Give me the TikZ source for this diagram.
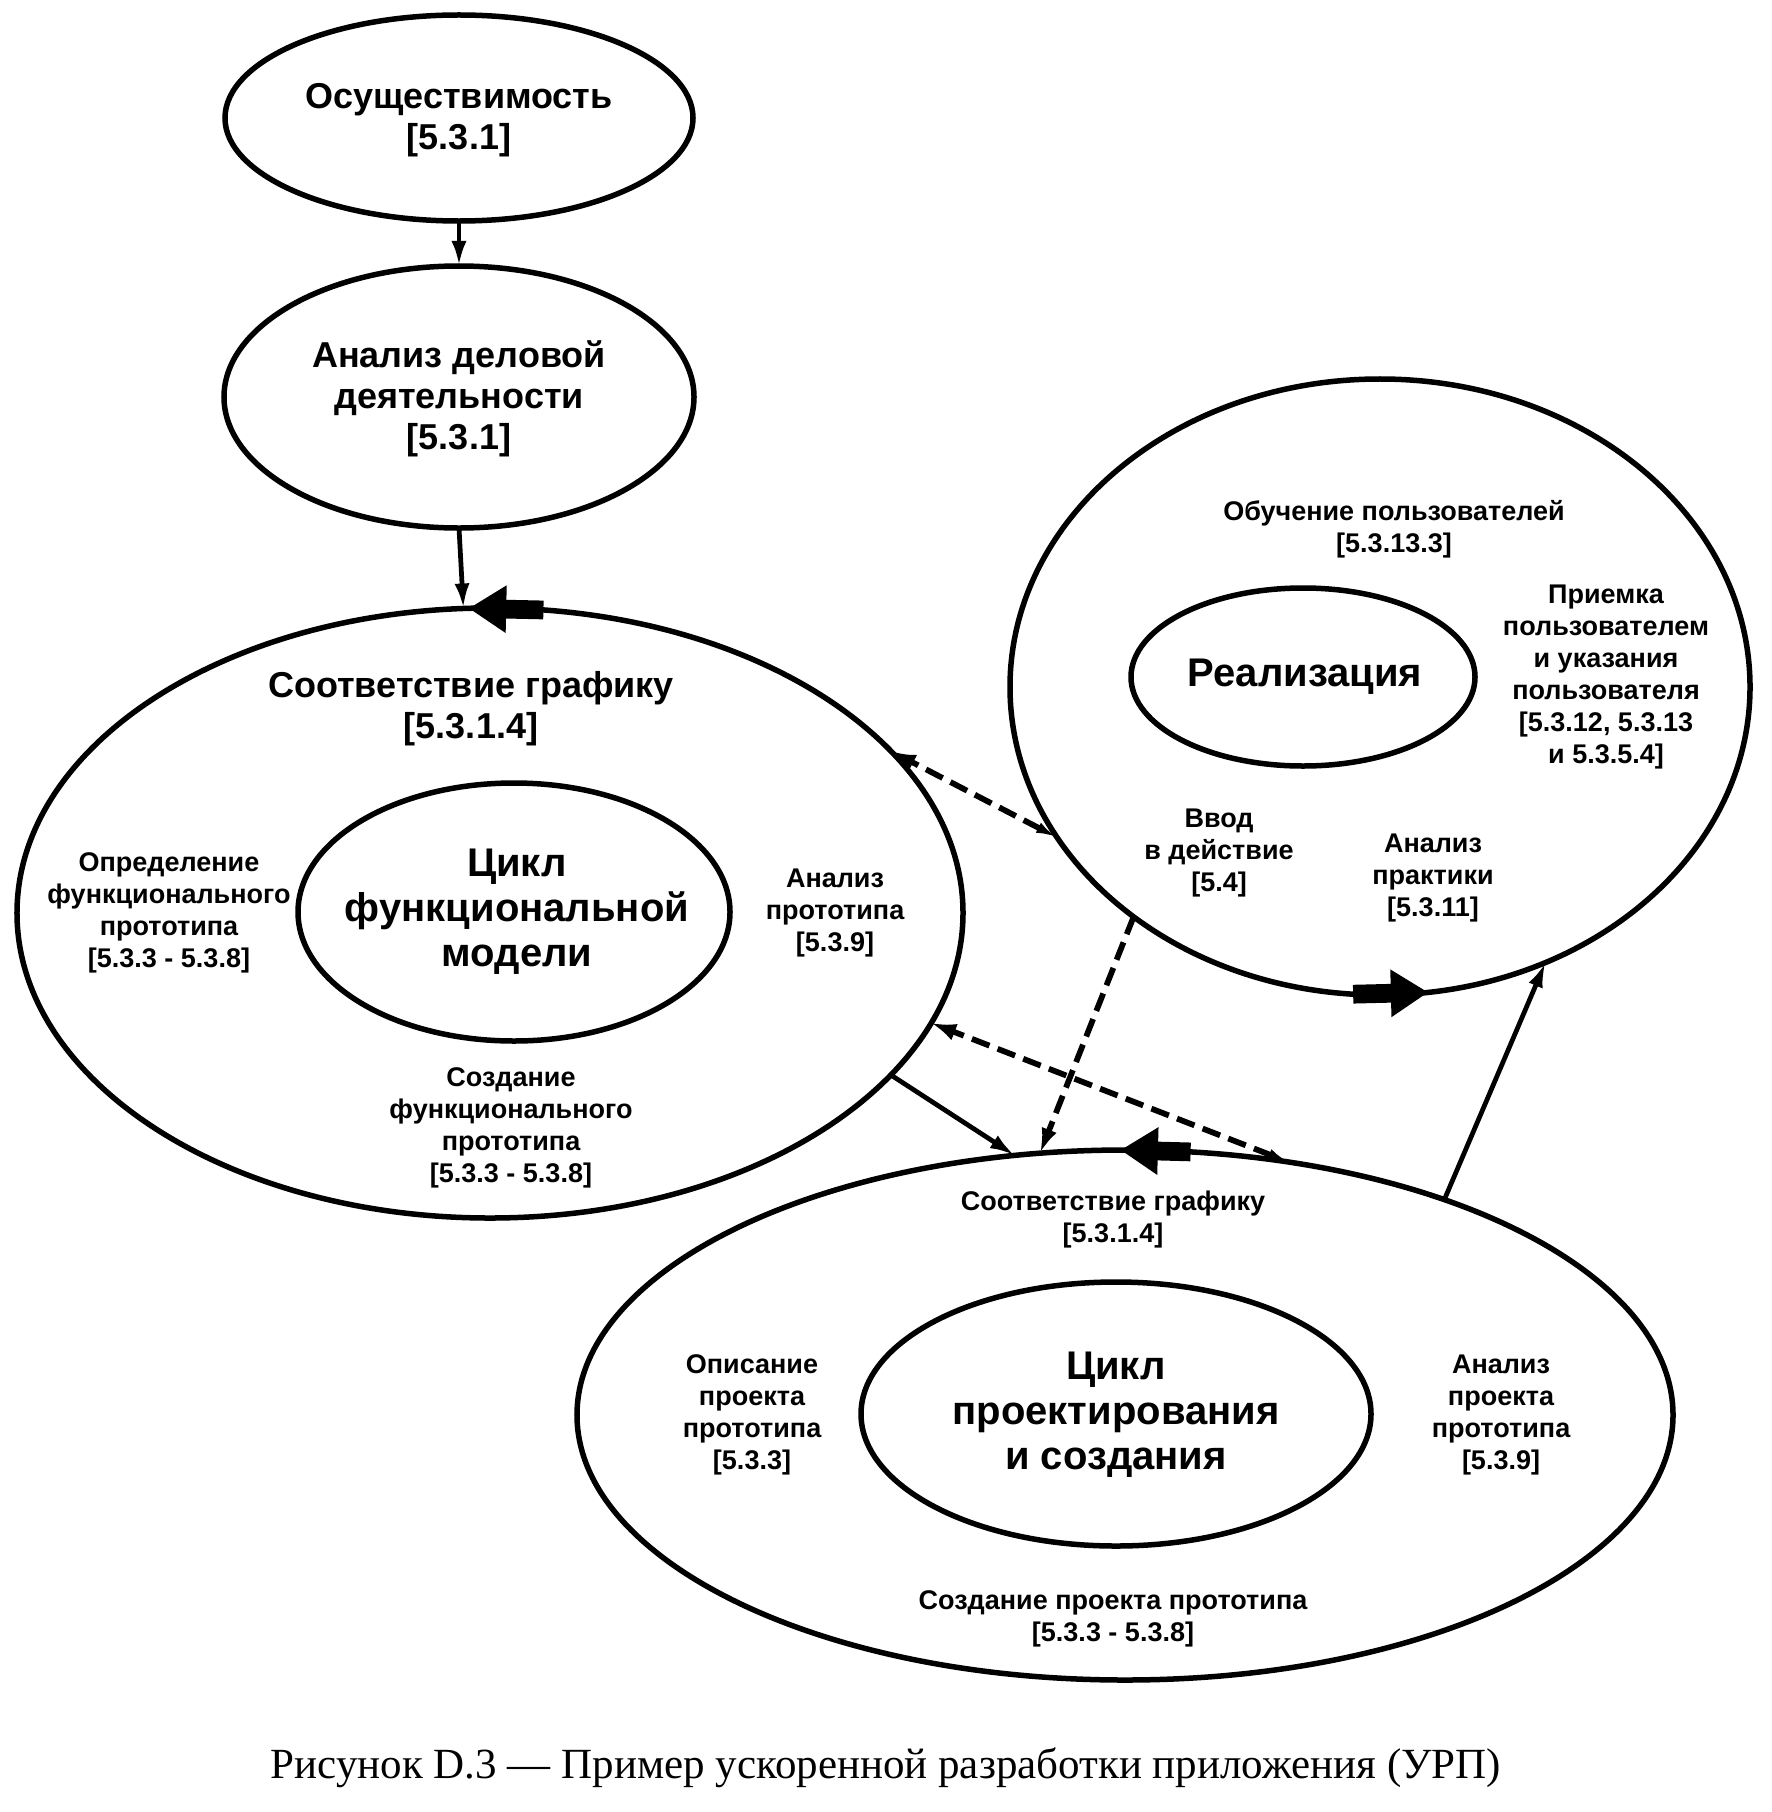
\documentclass[tikz,border=0pt]{standalone}
\usepackage{fontspec}
\setmainfont{Liberation Serif}
\newfontfamily\sansb{Liberation Sans}
\usetikzlibrary{arrows.meta,shapes.geometric}
\begin{document}
\begin{tikzpicture}[x=0.4pt,y=-0.4pt,
  shell/.style={draw, ellipse, line width=2.2pt, outer sep=0pt, inner sep=0pt},
  bigtxt/.style={align=center, font=\sansb\bfseries\fontsize{14.4pt}{16.4pt}\selectfont, inner sep=0pt},
  hugetxt/.style={align=center, font=\sansb\bfseries\fontsize{16pt}{18pt}\selectfont, inner sep=0pt},
  smalltxt/.style={align=center, font=\sansb\bfseries\fontsize{10.8pt}{12.8pt}\selectfont, inner sep=0pt},
  link/.style={line width=1.9pt, -{Latex[length=10pt,width=6pt]}},
  dlink/.style={line width=2.3pt, dash pattern=on 7.5pt off 3.5pt, -{Latex[length=10pt,width=6.4pt]}},
  dboth/.style={line width=2.3pt, dash pattern=on 7.5pt off 3.5pt, {Latex[length=8.5pt,width=4.5pt]}-{Latex[length=10pt,width=7pt]}},
  flow/.style={line width=7.5pt, -{Triangle[length=15pt,width=18pt]}}
]
\useasboundingbox (0,0) rectangle (1772,1812);

% shapes
\node[shell, minimum width=187.2pt, minimum height=82.4pt] (E1) at (459,118) {};
\node[shell, minimum width=188pt, minimum height=104.8pt] (E2) at (459,397) {};
\node[shell, minimum width=378.4pt, minimum height=244pt] (E3) at (490,913) {};
\node[shell, minimum width=172.8pt, minimum height=103.2pt] (E3i) at (514,912) {};
\node[shell, minimum width=296pt, minimum height=246.4pt] (R) at (1380,687) {};
\node[shell, minimum width=137.6pt, minimum height=71.2pt] (Ri) at (1303,677) {};
\node[shell, minimum width=438.4pt, minimum height=212pt] (D) at (1125,1415) {};
\node[shell, minimum width=204pt, minimum height=105.6pt] (Di) at (1116,1414) {};

% texts
\node[bigtxt] (t1) at (459,120) {Осуществимость\\{[}5.3.1{]}};
\node[bigtxt] (t2) at (459,399) {Анализ деловой\\деятельности\\{[}5.3.1{]}};
\node[bigtxt] (t3) at (471,709) {Соответствие графику\\{[}5.3.1.4{]}};
\node[hugetxt] (t4) at (517,912) {Цикл\\функциональной\\модели};
\node[smalltxt] (t5) at (169,913) {Определение\\функционального\\прототипа\\{[}5.3.3 - 5.3.8{]}};
\node[smalltxt] (t6) at (835,913) {Анализ\\прототипа\\{[}5.3.9{]}};
\node[smalltxt] (t7) at (511,1128) {Создание\\функционального\\прототипа\\{[}5.3.3 - 5.3.8{]}};
\node[smalltxt] (t8) at (1394,529) {Обучение пользователей\\{[}5.3.13.3{]}};
\node[hugetxt] (t9) at (1305,677) {Реализация};
\node[smalltxt] (t10) at (1606,677) {Приемка\\пользователем\\и указания\\пользователя\\{[}5.3.12, 5.3.13\\и 5.3.5.4{]}};
\node[smalltxt] (t11) at (1219,853) {Ввод\\в действие\\{[}5.4{]}};
\node[smalltxt] (t12) at (1433,878) {Анализ\\практики\\{[}5.3.11{]}};
\node[smalltxt] (t13) at (1113,1220) {Соответствие графику\\{[}5.3.1.4{]}};
\node[hugetxt] (t14) at (1116,1415) {Цикл\\проектирования\\и создания};
\node[smalltxt] (t15) at (752,1415) {Описание\\проекта\\прототипа\\{[}5.3.3{]}};
\node[smalltxt] (t16) at (1501,1415) {Анализ\\проекта\\прототипа\\{[}5.3.9{]}};
\node[smalltxt] (t17) at (1113,1619) {Создание проекта прототипа\\{[}5.3.3 - 5.3.8{]}};
\node[inner sep=0pt, font=\fontsize{17.2pt}{20pt}\selectfont] (cap) at (886,1768) {Рисунок D.3 — Пример ускоренной разработки приложения (УРП)};

% connectors
\draw[link] (E1.south) -- (E2.north);
\draw[link] (E2.south) -- (E3.95.8);
\draw[flow] (E3.80.5) -- (E3.94.7);
\draw[flow] (D.76.5) -- (D.91.3);
\draw[flow] (R.265.5) -- (R.279.1);
\draw[dboth] (R.205.4) -- (E3.22.7);
\draw[dlink] (R.223.7) -- (D.108.8);
\draw[dboth] (D.57.8) -- (E3.-14.2);
\draw[link] (E3.-22.3) -- (D.113.3);
\draw[link] (D.34.1) -- (R.301.8);
\end{tikzpicture}
\end{document}
